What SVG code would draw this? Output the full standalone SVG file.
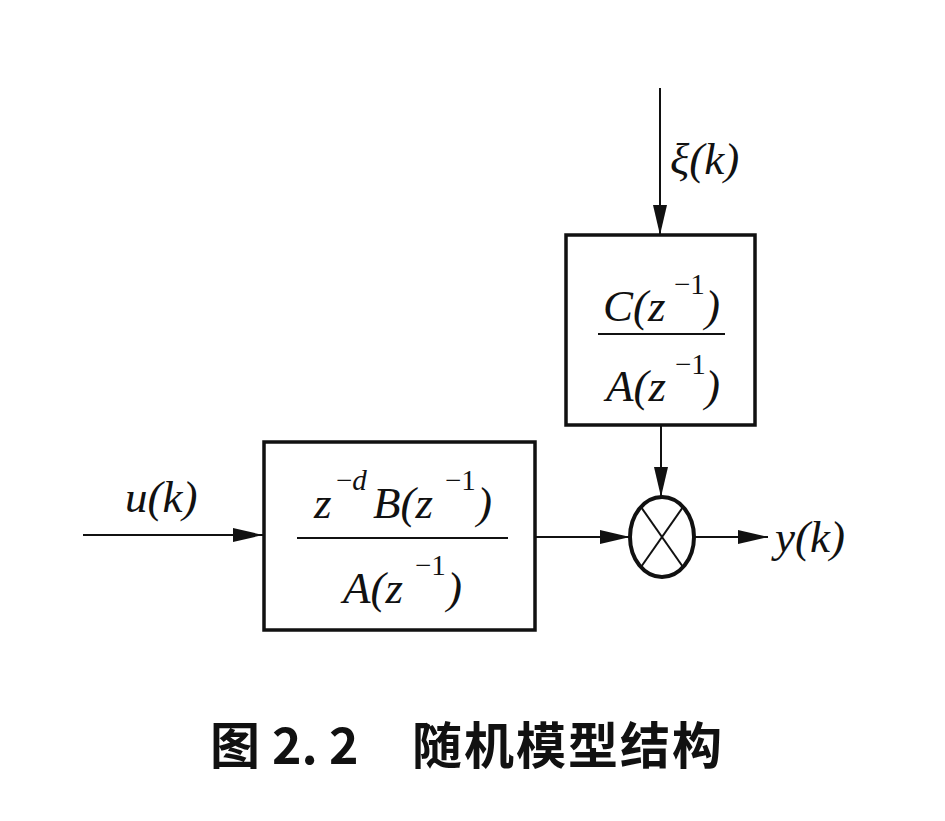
<svg xmlns="http://www.w3.org/2000/svg" width="945" height="821" viewBox="0 0 945 821">
<style>
.box{fill:none;stroke:#111;stroke-width:3.5}
.ln{fill:none;stroke:#111;stroke-width:2}
.m{font-family:"Liberation Serif",serif;font-style:italic;font-size:45px;fill:#111}
.s{font-family:"Liberation Serif",serif;font-size:29px;fill:#111}
.cap{font-family:"Noto Sans CJK SC",sans-serif;font-weight:bold;font-size:50px;fill:#111}
</style>
<defs>
<marker id="ah" markerWidth="30" markerHeight="14" refX="30" refY="7" orient="auto" markerUnits="userSpaceOnUse">
<path d="M0,0 L30,7 L0,14 Z" fill="#111"/>
</marker>
</defs>
<g id="connectors">
<line class="ln" x1="83" y1="535" x2="263" y2="535" marker-end="url(#ah)"/>
<line class="ln" x1="535" y1="537" x2="630" y2="537" marker-end="url(#ah)"/>
<line class="ln" x1="695" y1="537" x2="768" y2="537" marker-end="url(#ah)"/>
<line class="ln" x1="660" y1="88" x2="660" y2="235" marker-end="url(#ah)"/>
<line class="ln" x1="661" y1="426" x2="661" y2="497" marker-end="url(#ah)"/>
</g>
<g id="input-label"><text class="m" x="125" y="512">u(k)</text></g>
<g id="xi-label"><text class="m" x="670" y="174" font-style="normal">ξ<tspan font-style="italic">(k)</tspan></text></g>
<g id="output-label"><text class="m" x="775" y="552">y(k)</text></g>
<g id="block-B">
<rect class="box" x="264" y="442" width="271" height="188"/>
<line class="ln" x1="297" y1="538" x2="508" y2="538" stroke-width="2.5"/>
<text class="m" x="314" y="518">z</text>
<text class="s" x="336" y="490">−<tspan font-style="italic">d</tspan></text>
<text class="m" x="373" y="518">B(z</text>
<text class="s" x="445" y="490">−1</text>
<text class="m" x="477" y="518">)</text>
<text class="m" x="343" y="603">A(z</text>
<text class="s" x="415" y="575">−1</text>
<text class="m" x="447" y="603">)</text>
</g>
<g id="block-C">
<rect class="box" x="566" y="235" width="189" height="190"/>
<line class="ln" x1="598" y1="334" x2="725" y2="334" stroke-width="2.5"/>
<text class="m" x="603" y="321">C(z</text>
<text class="s" x="674" y="294">−1</text>
<text class="m" x="705" y="321">)</text>
<text class="m" x="606" y="401">A(z</text>
<text class="s" x="675" y="374">−1</text>
<text class="m" x="705" y="401">)</text>
</g>
<g id="multiplier">
<ellipse cx="662" cy="537" rx="32" ry="40" fill="none" stroke="#111" stroke-width="4"/>
<line class="ln" x1="641" y1="507" x2="683" y2="567"/>
<line class="ln" x1="683" y1="507" x2="641" y2="567"/>
</g>
<g id="caption">
<text class="cap" x="210" y="764">图</text>
<text class="cap" x="272" y="764" font-family="Liberation Serif,serif">2. 2</text>
<text class="cap" x="412" y="764" letter-spacing="2">随机模型结构</text>
</g>
</svg>
